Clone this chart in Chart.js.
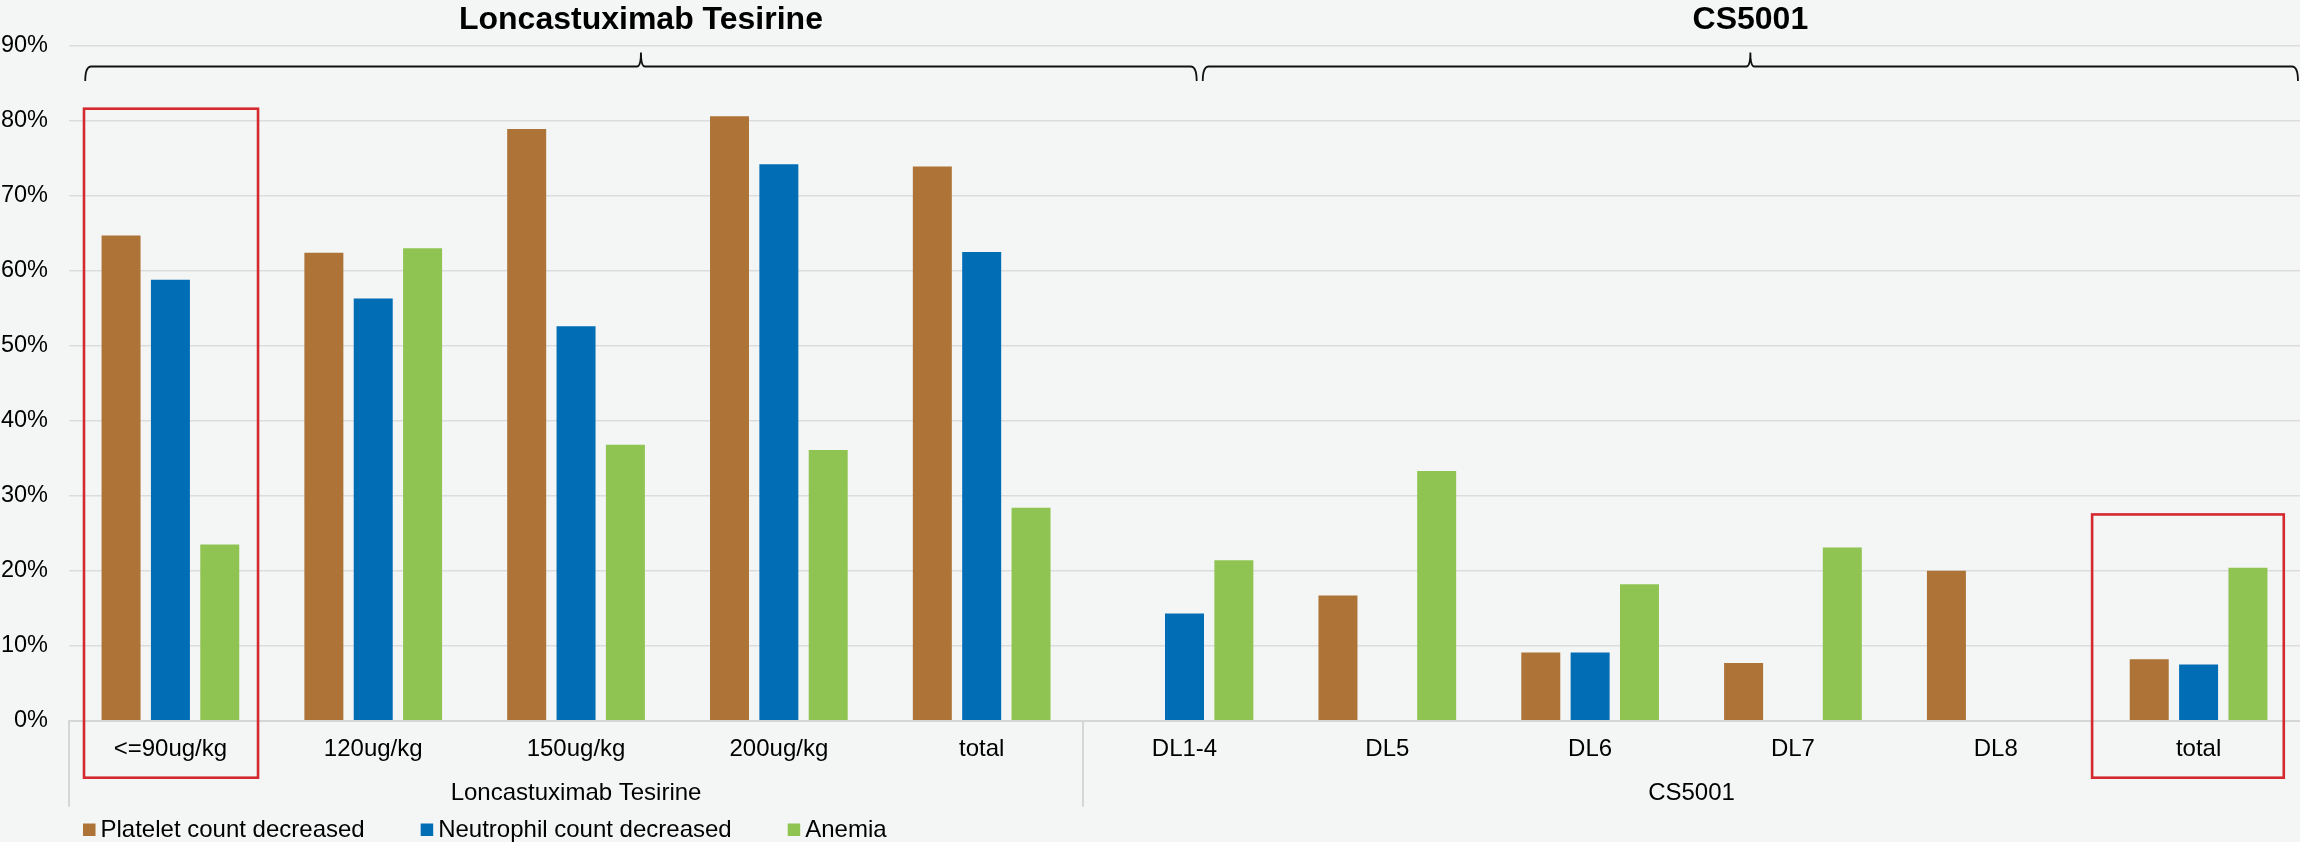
<!DOCTYPE html>
<html>
<head>
<meta charset="utf-8">
<script src="https://cdn.jsdelivr.net/npm/chart.js@4.4.1/dist/chart.umd.min.js"></script>
<style>
  html, body { margin: 0; padding: 0; background: #f4f6f5; }
  canvas { display: block; }
</style>
</head>
<body>
<canvas id="aeChart" width="2300" height="842"></canvas>
<script>
// categories (two groups)
const categories = ['<=90ug/kg', '120ug/kg', '150ug/kg', '200ug/kg', 'total',
                    'DL1-4', 'DL5', 'DL6', 'DL7', 'DL8', 'total'];
const groupNames = ['Loncastuximab Tesirine', 'CS5001'];
const groupSizes = [5, 6];

// series values, %
const platelet   = [64.7, 62.4, 78.9, 80.6, 73.9, 0, 16.7, 9.1, 7.7, 20.0, 8.2];
const neutrophil = [58.8, 56.3, 52.6, 74.2, 62.5, 14.3, 0, 9.1, 0, 0, 7.5];
const anemia     = [23.5, 63.0, 36.8, 36.1, 28.4, 21.4, 33.3, 18.2, 23.1, 0, 20.4];

const seriesNames = ['Platelet count decreased', 'Neutrophil count decreased', 'Anemia'];
const yTicks = [0, 10, 20, 30, 40, 50, 60, 70, 80, 90];

const FONT = '"Liberation Sans", Arial, sans-serif';

// background, braces, titles, group row, red boxes, legend
const decorPlugin = {
    id: 'decor',
    beforeDraw(chart) {
        const ctx = chart.ctx;
        ctx.save();
        ctx.fillStyle = '#f4f6f5';
        ctx.fillRect(0, 0, chart.width, chart.height);
        ctx.restore();
    },
    afterDraw(chart) {
        const ctx = chart.ctx;
        const x = chart.scales.x;
        const y = chart.scales.y;
        const bottom = chart.chartArea.bottom;

        ctx.save();

        // group separators + group labels under the axis
        ctx.strokeStyle = '#d6d6d6';
        ctx.lineWidth = 2;
        let start = 0;
        const edges = [-0.5];
        groupSizes.forEach(n => { start += n; edges.push(start - 0.5); });
        edges.slice(0, -1).forEach(e => {
            const px = Math.round(x.getPixelForValue(e));
            ctx.beginPath();
            ctx.moveTo(px, bottom);
            ctx.lineTo(px, bottom + 86);
            ctx.stroke();
        });
        ctx.fillStyle = '#000';
        ctx.font = '24px ' + FONT;
        ctx.textAlign = 'center';
        ctx.textBaseline = 'middle';
        groupNames.forEach((g, i) => {
            const mid = (edges[i] + edges[i + 1]) / 2;
            ctx.fillText(g, x.getPixelForValue(mid), bottom + 73);
        });

        // braces with titles on top
        const braces = [[-0.42, 2.32, 5.06], [5.09, 7.79, 10.49]];
        ctx.strokeStyle = '#111';
        ctx.lineWidth = 1.8;
        braces.forEach((b, i) => {
            const x0 = x.getPixelForValue(b[0]);
            const xm = x.getPixelForValue(b[1]);
            const x1 = x.getPixelForValue(b[2]);
            const yl = 66.5, yt = 81, yp = 52.5;
            ctx.beginPath();
            ctx.moveTo(x0, yt);
            ctx.quadraticCurveTo(x0, yl, x0 + 6, yl);
            ctx.lineTo(xm - 4, yl);
            ctx.quadraticCurveTo(xm, yl, xm, yp);
            ctx.quadraticCurveTo(xm, yl, xm + 4, yl);
            ctx.lineTo(x1 - 6, yl);
            ctx.quadraticCurveTo(x1, yl, x1, yt);
            ctx.stroke();

            ctx.font = 'bold 32px ' + FONT;
            ctx.fillStyle = '#000';
            ctx.textBaseline = 'alphabetic';
            ctx.fillText(groupNames[i], xm, 29);
        });

        // red highlight boxes
        ctx.strokeStyle = '#d42a2f';
        ctx.lineWidth = 2.6;
        [[-0.426, 0.432, 81.6], [9.475, 10.42, 27.5]].forEach(r => {
            const l = x.getPixelForValue(r[0]);
            const rr = x.getPixelForValue(r[1]);
            const t = y.getPixelForValue(r[2]);
            ctx.strokeRect(l, t, rr - l, bottom + 57 - t);
        });

        // legend
        ctx.font = '24px ' + FONT;
        ctx.textAlign = 'left';
        ctx.textBaseline = 'middle';
        let lx = 83;
        const ly = 830;
        chart.data.datasets.forEach(ds => {
            ctx.fillStyle = ds.backgroundColor;
            ctx.fillRect(lx, ly - 6.5, 12.5, 12.5);
            ctx.fillStyle = '#000';
            ctx.fillText(ds.label, lx + 17.5, ly);
            lx += 17.5 + ctx.measureText(ds.label).width + 56;
        });

        ctx.restore();
    }
};

const ctx = document.getElementById('aeChart').getContext('2d');
const chart = new Chart(ctx, {
    type: 'bar',
    data: {
        labels: categories,
        datasets: [
            { label: seriesNames[0], data: platelet, backgroundColor: '#ad7337' },
            { label: seriesNames[1], data: neutrophil, backgroundColor: '#006db4' },
            { label: seriesNames[2], data: anemia, backgroundColor: '#8fc452' }
        ]
    },
    options: {
        responsive: false,
        animation: false,
        layout: { padding: { top: 45.7, left: 0, right: 0, bottom: 0 } },
        datasets: {
            bar: { categoryPercentage: 0.73, barPercentage: 0.79, borderWidth: 0 }
        },
        plugins: {
            legend: { display: false },
            tooltip: { enabled: false }
        },
        scales: {
            x: {
                grid: { display: false, drawTicks: false },
                border: { display: true, color: '#d6d6d6', width: 2 },
                ticks: {
                    color: '#000',
                    font: { family: FONT, size: 24 },
                    padding: 14,
                    autoSkip: false,
                    maxRotation: 0
                },
                afterFit(scale) { scale.height = 121.3; }
            },
            y: {
                min: 0,
                max: 90,
                afterBuildTicks(scale) { scale.ticks = yTicks.map(v => ({ value: v })); },
                grid: { color: '#dcdcdc', lineWidth: 1.6, drawTicks: false },
                border: { display: false },
                ticks: {
                    color: '#000',
                    font: { family: FONT, size: 23.5 },
                    padding: 21,
                    callback: v => v + '%'
                },
                afterFit(scale) { scale.width = 69; }
            }
        }
    },
    plugins: [decorPlugin]
});
</script>
</body>
</html>
